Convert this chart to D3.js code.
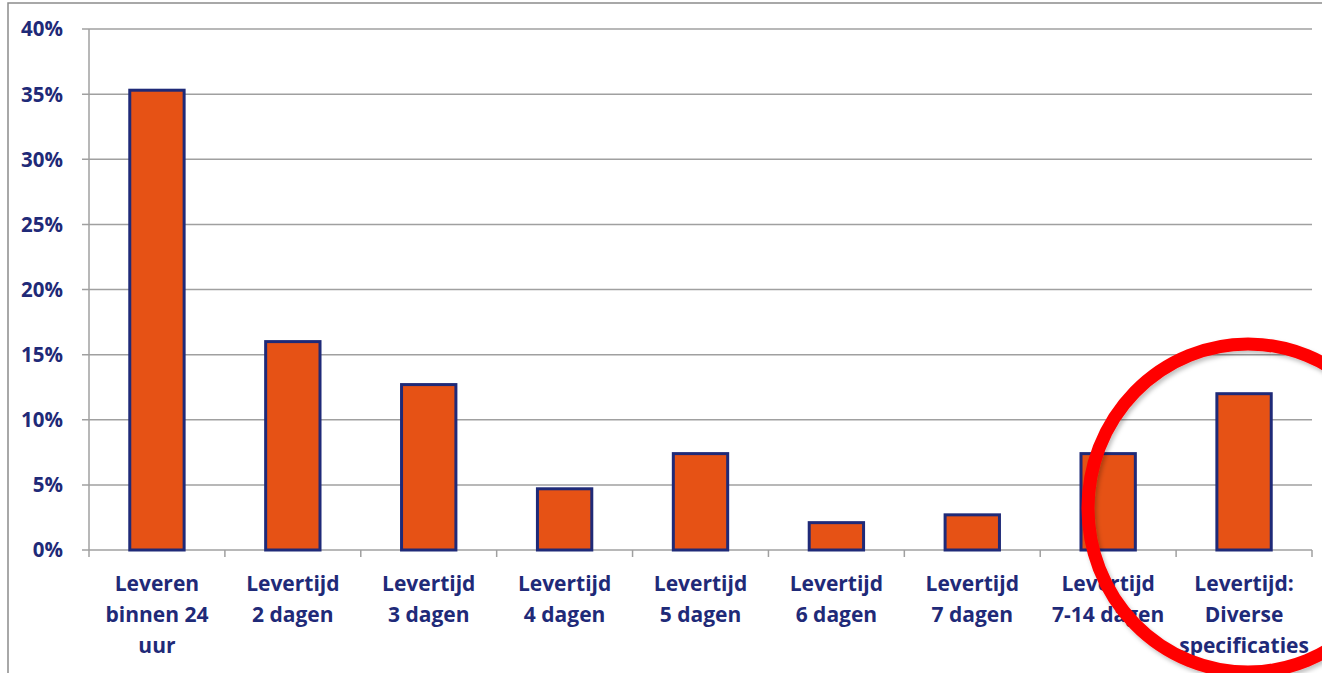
<!DOCTYPE html>
<html><head><meta charset="utf-8">
<script src="https://cdn.jsdelivr.net/npm/d3@7"></script>
<style>body{margin:0;background:#fff}svg{display:block}</style>
</head><body>
<script>
const categories = [
  ["Leveren","binnen 24","uur"],
  ["Levertijd","2 dagen"],
  ["Levertijd","3 dagen"],
  ["Levertijd","4 dagen"],
  ["Levertijd","5 dagen"],
  ["Levertijd","6 dagen"],
  ["Levertijd","7 dagen"],
  ["Levertijd","7-14 dagen"],
  ["Levertijd:","Diverse","specificaties"]
];
const values = [0.353, 0.160, 0.127, 0.047, 0.074, 0.021, 0.027, 0.074, 0.120];
const yTicks = [0, 0.05, 0.10, 0.15, 0.20, 0.25, 0.30, 0.35, 0.40];

const W = 1322, H = 673;
const m = {left: 89, right: 10, top: 29, bottom: 123};
const navy = "#1f2a78";
const font = "'Open Sans', Lato, sans-serif";
const svg = d3.select("body").append("svg").attr("width", W).attr("height", H);

const defs = svg.append("defs");
const f = defs.append("filter").attr("id", "sh").attr("x", "-20%").attr("y", "-20%").attr("width", "140%").attr("height", "140%");
f.append("feDropShadow").attr("dx", 2).attr("dy", 3).attr("stdDeviation", 2).attr("flood-color", "#000").attr("flood-opacity", 0.25);

// outer chart border
svg.append("path").attr("d", `M8,${H} V3 H${W}`).attr("fill","none").attr("stroke","#8c8c8c").attr("stroke-width",1.5);

const x = d3.scaleBand().domain(d3.range(categories.length)).range([m.left, W - m.right]).paddingInner(0.6).paddingOuter(0.3);
const xb = d3.scaleLinear().domain([0, categories.length]).range([m.left, W - m.right]);
const y = d3.scaleLinear().domain([0, 0.40]).range([H - m.bottom, m.top]);

// gridlines
svg.append("g").selectAll("line").data(yTicks).join("line")
  .attr("x1", m.left - 7).attr("x2", W - m.right)
  .attr("y1", d => y(d)).attr("y2", d => y(d))
  .attr("stroke", "#a0a0a0").attr("stroke-width", 1.5);

// y axis line
svg.append("line").attr("x1", m.left).attr("x2", m.left).attr("y1", y(0.40)).attr("y2", y(0))
  .attr("stroke", "#a0a0a0").attr("stroke-width", 1.5);

// x ticks at category boundaries
svg.append("g").selectAll("line").data(d3.range(categories.length + 1)).join("line")
  .attr("x1", d => xb(d)).attr("x2", d => xb(d))
  .attr("y1", y(0)).attr("y2", y(0) + 7)
  .attr("stroke", "#a0a0a0").attr("stroke-width", 1.5);

// y labels
svg.append("g").selectAll("text").data(yTicks).join("text")
  .attr("x", 63).attr("y", d => y(d)).attr("dy", "0.36em")
  .attr("text-anchor", "end")
  .attr("font-family", font).attr("font-weight", "bold")
  .attr("font-size", 20.5).attr("fill", navy)
  .text(d => d3.format(".0%")(d));

// bars
svg.append("g").selectAll("rect").data(values).join("rect")
  .attr("x", (d, i) => x(i)).attr("width", x.bandwidth())
  .attr("y", d => y(d)).attr("height", d => y(0) - y(d))
  .attr("fill", "#e65215").attr("stroke", navy).attr("stroke-width", 3);

// category labels
const lab = svg.append("g").selectAll("text").data(categories).join("text")
  .attr("x", (d, i) => x(i) + x.bandwidth() / 2)
  .attr("y", 591)
  .attr("text-anchor", "middle")
  .attr("font-family", font).attr("font-weight", "bold")
  .attr("font-size", 21).attr("fill", navy);
lab.selectAll("tspan").data(d => d).join("tspan")
  .attr("x", function(){ return this.parentNode.getAttribute("x"); })
  .attr("dy", (d, j) => j === 0 ? 0 : 31)
  .text(d => d);

// red highlight ellipse
svg.append("ellipse").attr("cx", 1248).attr("cy", 508).attr("rx", 160).attr("ry", 164)
  .attr("fill", "none").attr("stroke", "#ff0000").attr("stroke-width", 13)
  .attr("filter", "url(#sh)");
</script>
</body></html>
